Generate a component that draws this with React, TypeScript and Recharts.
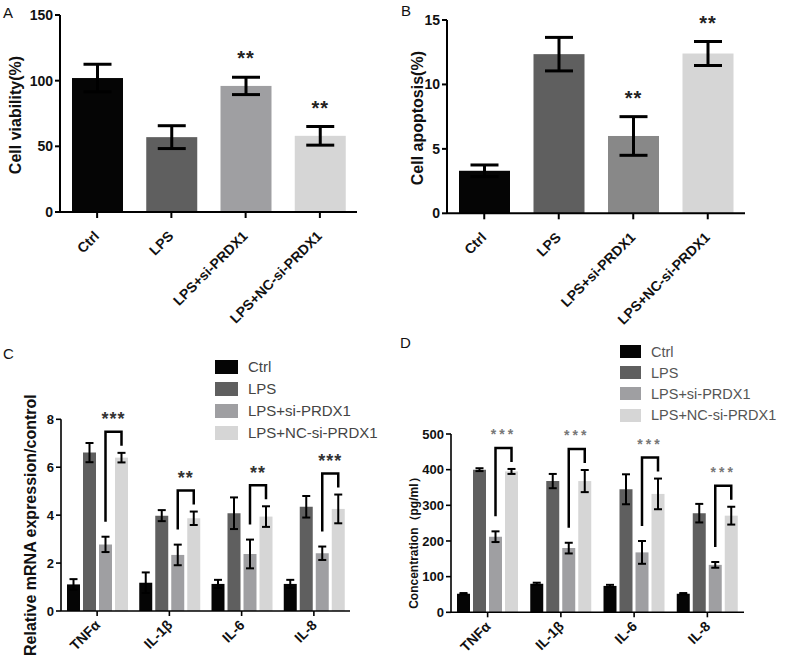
import React from "react";
import { BarChart, Bar, XAxis, YAxis, ErrorBar, Cell, Label } from "recharts";

const FONT = '"Liberation Sans", Arial, Helvetica, sans-serif';

// groups used in every panel
const groups = ["Ctrl", "LPS", "LPS+si-PRDX1", "LPS+NC-si-PRDX1"];

// A: cell viability (%)
const viability = [102, 57, 96, 58];
const viabilityErr = [10.5, 8.7, 6.6, 7.1];
const viabilityStars = ["", "", "**", "**"];

// B: cell apoptosis (%)
const apoptosis = [3.3, 12.35, 6.0, 12.4];
const apoptosisErr = [0.45, 1.3, 1.5, 0.93];
const apoptosisStars = ["", "", "**", "**"];

// C / D categories
const cytokines = ["TNFα", "IL-1β", "IL-6", "IL-8"];

// C: relative mRNA expression
const mrnaCtrl = [1.11, 1.18, 1.13, 1.13];
const mrnaCtrlErr = [0.22, 0.43, 0.17, 0.17];
const mrnaLps = [6.61, 3.98, 4.08, 4.35];
const mrnaLpsErr = [0.4, 0.23, 0.66, 0.45];
const mrnaSi = [2.78, 2.34, 2.38, 2.41];
const mrnaSiErr = [0.32, 0.43, 0.6, 0.28];
const mrnaNc = [6.4, 3.87, 3.94, 4.26];
const mrnaNcErr = [0.2, 0.28, 0.43, 0.6];
const mrnaStars = ["***", "**", "**", "***"];

// D: concentration (pg/ml)
const concCtrl = [52, 80, 74, 52];
const concCtrlErr = [2, 3, 3, 2];
const concLps = [400, 368, 345, 278];
const concLpsErr = [4, 20, 42, 26];
const concSi = [212, 180, 168, 133];
const concSiErr = [15, 15, 32, 8];
const concNc = [395, 368, 332, 271];
const concNcErr = [7, 31, 43, 25];
const concStars = ["***", "***", "***", "***"];

const shades = ["#050505", "#5f5f5f", "#9f9fa2", "#d6d6d6"];
const shadesB = ["#050505", "#5f5f5f", "#888888", "#d6d6d6"];

const simpleRows = (vals: number[], errs: number[], stars: string[]) =>
  groups.map((name, i) => ({ name, value: vals[i], err: errs[i], stars: stars[i] }));

const groupedRows = (
  ctrl: number[], ctrlErr: number[], lps: number[], lpsErr: number[],
  si: number[], siErr: number[], nc: number[], ncErr: number[], stars: string[]
) =>
  cytokines.map((name, i) => ({
    name,
    ctrl: ctrl[i], ctrlErr: ctrlErr[i],
    lps: lps[i], lpsErr: lpsErr[i],
    si: si[i], siErr: siErr[i],
    nc: nc[i], ncErr: ncErr[i],
    stars: stars[i],
  }));

const SlantTick = (props: any) => {
  const { x, y, payload, fs = 14, dx = 6, dy = 8 } = props;
  return (
    <g transform={`translate(${x + dx},${y + dy})`}>
      <text transform="rotate(-45)" textAnchor="end" fontSize={fs} fontWeight="bold"
        fontFamily={FONT} fill="#111">
        {payload.value}
      </text>
    </g>
  );
};

const VTitle = ({ viewBox, cx, shift, text, fs }: any) => {
  const vb = viewBox || { y: 0, height: 0 };
  const cy = vb.y + vb.height / 2 + shift;
  return (
    <text x={cx} y={cy} transform={`rotate(-90 ${cx} ${cy})`} textAnchor="middle"
      dominantBaseline="central" fontSize={fs} fontWeight="bold" fontFamily={FONT} fill="#111">
      {text}
    </text>
  );
};

// bar with significance stars above its error bar
const StarBar = (props: any) => {
  const { x, y, width, height, fill, payload } = props;
  const px = payload.value ? height / payload.value : 0;
  const errTop = y - payload.err * px;
  const sy = errTop - 23;
  return (
    <g>
      <rect x={x} y={y} width={width} height={height} fill={fill} />
      {payload.stars ? (
        <text x={x + width / 2} y={sy + 11} textAnchor="middle" fontSize={20}
          fontWeight="bold" fontFamily={FONT} fill="#222" letterSpacing={1}>
          {payload.stars}
        </text>
      ) : null}
    </g>
  );
};

// last bar of a group: draws the si vs NC bracket and the stars
const BracketBar = (props: any) => {
  const { x, y, width, height, fill, payload, gap, starFs, starColor, starSpacing } = props;
  const px = payload.nc ? height / payload.nc : 0;
  const base = y + height;
  const ncX = x + width / 2;
  const siX = ncX - (width + gap);
  const ncTop = y - payload.ncErr * px;
  const siTop = base - (payload.si + payload.siErr) * px;
  const top = ncTop - 21;
  const mid = (ncX + siX) / 2;
  return (
    <g>
      <rect x={x} y={y} width={width} height={height} fill={fill} />
      <polyline points={`${siX},${siTop - 15} ${siX},${top} ${ncX},${top} ${ncX},${ncTop - 7}`}
        fill="none" stroke="#000" strokeWidth={2.5} />
      <text x={mid} y={top - 17 + starFs * 0.575} textAnchor="middle" fontSize={starFs}
        fontWeight="bold" fontFamily={FONT} fill={starColor} letterSpacing={starSpacing}>
        {payload.stars}
      </text>
    </g>
  );
};

const PanelLetter = ({ text, left, top }: any) => (
  <div style={{ position: "absolute", left, top, fontFamily: FONT, fontSize: 15, lineHeight: 1, color: "#111" }}>
    {text}
  </div>
);

const LegendBox = ({ left, top, rowH, sw, sh, fs, color }: any) => (
  <div style={{ position: "absolute", left, top, fontFamily: FONT, fontSize: fs, color }}>
    {groups.map((g, i) => (
      <div key={g} style={{ display: "flex", alignItems: "center", height: rowH, whiteSpace: "nowrap" }}>
        <span style={{ display: "inline-block", width: sw, height: sh, background: shades[i], marginRight: 10 }} />
        {g}
      </div>
    ))}
  </div>
);

const SimplePanel = ({ data, colors, left, top, width, height, marginTop, marginRight, yWidth, xHeight,
  domain, ticks, title, titleX, titleShift }: any) => (
  <div style={{ position: "absolute", left, top }}>
    <BarChart width={width} height={height} data={data}
      margin={{ top: marginTop, right: marginRight, left: 0, bottom: 0 }} barSize={51}>
      <XAxis dataKey="name" interval={0} height={xHeight} stroke="#000" strokeWidth={2}
        tickSize={6} tickLine={{ stroke: "#000", strokeWidth: 2 }} tick={<SlantTick fs={14} dx={3} dy={17} />} />
      <YAxis domain={domain} ticks={ticks} width={yWidth} stroke="#000" strokeWidth={2}
        tickSize={5} tickLine={{ stroke: "#000", strokeWidth: 2 }}
        tick={{ fontSize: 14, fontWeight: "bold", fontFamily: FONT, fill: "#111" }}>
        <Label content={(p: any) => <VTitle viewBox={p.viewBox} cx={titleX} shift={titleShift} text={title} fs={16} />} />
      </YAxis>
      <Bar dataKey="value" isAnimationActive={false} shape={(p: any) => <StarBar {...p} />}>
        {data.map((d: any, i: number) => <Cell key={d.name} fill={colors[i]} />)}
        <ErrorBar dataKey="err" width={14} stroke="#000" strokeWidth={3} />
      </Bar>
    </BarChart>
  </div>
);

const GroupedPanel = ({ data, left, top, width, height, marginTop, marginRight, yWidth, xHeight,
  domain, ticks, title, titleX, titleShift, titleFs, starFs, starColor, starSpacing }: any) => {
  const keys = ["ctrl", "lps", "si", "nc"];
  return (
    <div style={{ position: "absolute", left, top }}>
      <BarChart width={width} height={height} data={data}
        margin={{ top: marginTop, right: marginRight, left: 0, bottom: 0 }} barSize={13} barGap={3}>
        <XAxis dataKey="name" interval={0} height={xHeight} stroke="#000" strokeWidth={1.6}
          tickSize={5} tickLine={{ stroke: "#000", strokeWidth: 1.6 }} tick={<SlantTick fs={14} dx={4} dy={8} />} />
        <YAxis domain={domain} ticks={ticks} width={yWidth} stroke="#000" strokeWidth={1.6}
          tickSize={5} tickLine={{ stroke: "#000", strokeWidth: 1.6 }}
          tick={{ fontSize: 13, fontWeight: "bold", fontFamily: FONT, fill: "#111" }}>
          <Label content={(p: any) => <VTitle viewBox={p.viewBox} cx={titleX} shift={titleShift} text={title} fs={titleFs} />} />
        </YAxis>
        {keys.map((k, i) => (
          <Bar key={k} dataKey={k} fill={shades[i]} isAnimationActive={false}
            shape={k === "nc"
              ? (p: any) => <BracketBar {...p} gap={3} starFs={starFs} starColor={starColor} starSpacing={starSpacing} />
              : undefined}>
            <ErrorBar dataKey={k + "Err"} width={4} stroke="#000" strokeWidth={2} />
          </Bar>
        ))}
      </BarChart>
    </div>
  );
};

export default function App() {
  const dataA = simpleRows(viability, viabilityErr, viabilityStars);
  const dataB = simpleRows(apoptosis, apoptosisErr, apoptosisStars);
  const dataC = groupedRows(mrnaCtrl, mrnaCtrlErr, mrnaLps, mrnaLpsErr, mrnaSi, mrnaSiErr, mrnaNc, mrnaNcErr, mrnaStars);
  const dataD = groupedRows(concCtrl, concCtrlErr, concLps, concLpsErr, concSi, concSiErr, concNc, concNcErr, concStars);

  return (
    <div style={{ position: "absolute", left: 0, top: 0, width: 786, height: 661, background: "#fff", overflow: "hidden" }}>
      <PanelLetter text="A" left={3} top={5} />
      <PanelLetter text="B" left={401} top={3} />
      <PanelLetter text="C" left={3} top={346} />
      <PanelLetter text="D" left={400} top={335} />

      <SimplePanel data={dataA} colors={shades} left={0} top={0} width={370} height={330}
        marginTop={15} marginRight={13} yWidth={60} xHeight={118}
        domain={[0, 150]} ticks={[0, 50, 100, 150]} title="Cell viability(%)" titleX={15.5} titleShift={1.5} />

      <SimplePanel data={dataB} colors={shadesB} left={393} top={0} width={360} height={330}
        marginTop={20} marginRight={8} yWidth={54} xHeight={116.7}
        domain={[0, 15]} ticks={[0, 5, 10, 15]} title="Cell apoptosis(%)" titleX={25} titleShift={1.5} />

      <GroupedPanel data={dataC} left={0} top={330} width={360} height={331}
        marginTop={89.3} marginRight={10} yWidth={61} xHeight={50}
        domain={[0, 8]} ticks={[0, 2, 4, 6, 8]} title="Relative mRNA expression/control"
        titleX={31} titleShift={10} titleFs={16} starFs={18} starColor="#333" starSpacing={1} />

      <GroupedPanel data={dataD} left={393} top={330} width={360} height={331}
        marginTop={104} marginRight={9} yWidth={58} xHeight={48.7}
        domain={[0, 500]} ticks={[0, 100, 200, 300, 400, 500]} title="Concentration（pg/ml）"
        titleX={21} titleShift={17} titleFs={12} starFs={14} starColor="#777" starSpacing={3} />

      <LegendBox left={215} top={355.7} rowH={22} sw={23} sh={14} fs={15} color="#444" />
      <LegendBox left={620} top={341.2} rowH={21.1} sw={21} sh={13} fs={14.5} color="#555" />
    </div>
  );
}
